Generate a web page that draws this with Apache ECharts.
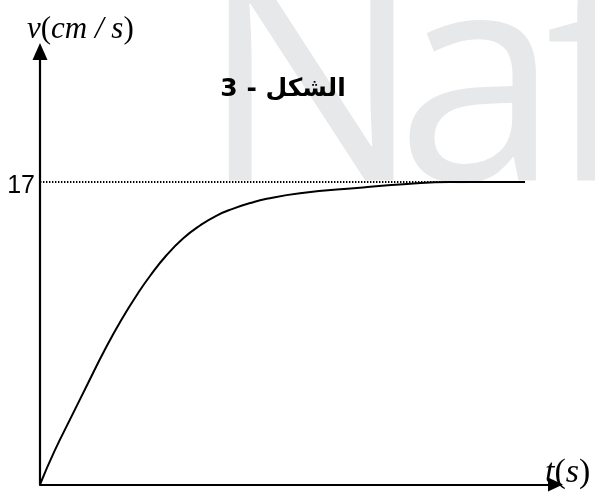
<!DOCTYPE html>
<html>
<head>
<meta charset="utf-8">
<script src="https://cdn.jsdelivr.net/npm/echarts@6/dist/echarts.min.js"></script>
<style>
  html, body { margin: 0; padding: 0; background: #fff; }
  #chart { width: 595px; height: 493px; }
</style>
</head>
<body>
<div id="chart"></div>
<script>
// Velocity v (cm/s) against time t (s): rises from rest and levels off at 17 cm/s
const times = [0, 0.285, 0.607, 0.931, 1.255, 1.577, 1.901, 2.134, 2.458, 2.780, 3.104, 3.428, 3.750, 4.074, 4.398, 5.044, 6.149, 7.119, 7.953, 9.408];
const speeds = [0, 1.90, 3.80, 5.69, 7.56, 9.25, 10.75, 11.72, 12.90, 13.84, 14.56, 15.12, 15.51, 15.82, 16.06, 16.37, 16.67, 16.89, 17, 17];
const yTicks = [17];
const limitSpeed = 17;
const titleText = 'الشكل - 3';

const chart = echarts.init(document.getElementById('chart'), null, { renderer: 'canvas' });

const serif = 'Liberation Serif, Times New Roman, serif';
const markFont = '295px "Open Sans", sans-serif';
const markColor = '#e7e8e9';

chart.setOption({
  animation: false,
  backgroundColor: '#ffffff',
  grid: { left: 40, right: 39.5, top: 51.5, bottom: 8.5, containLabel: false },
  xAxis: {
    type: 'value',
    min: 0,
    max: 10,
    axisLine: {
      show: true,
      onZero: false,
      symbol: ['none', 'triangle'],
      symbolSize: [14, 15],
      lineStyle: { color: '#000', width: 2.2 }
    },
    axisTick: { show: false },
    axisLabel: { show: false },
    splitLine: { show: false }
  },
  yAxis: {
    type: 'value',
    min: 0,
    max: 24.34,
    interval: 17,
    axisLine: {
      show: true,
      onZero: false,
      symbol: ['none', 'triangle'],
      symbolSize: [15, 17],
      lineStyle: { color: '#000', width: 2.2 }
    },
    axisTick: { show: false },
    splitLine: { show: false },
    axisLabel: {
      showMaxLabel: false,
      margin: 5,
      color: '#000',
      fontFamily: 'Liberation Sans, Arial, sans-serif',
      fontSize: 25,
      verticalAlign: 'top',
      lineHeight: 9,
      formatter: function (v) { return yTicks.indexOf(v) >= 0 ? String(v) : ''; }
    }
  },
  series: [{
    type: 'line',
    data: times.map(function (t, i) { return [t, speeds[i]]; }),
    smooth: 0.5,
    showSymbol: false,
    lineStyle: { color: '#000', width: 2 },
    z: 3,
    markLine: {
      silent: true,
      symbol: ['none', 'none'],
      label: { show: false },
      lineStyle: { color: '#000', width: 1.8, type: [1.4, 1.6] },
      data: [[{ coord: [0, limitSpeed] }, { coord: [times[times.length - 2], limitSpeed] }]]
    }
  }],
  graphic: [
    // faint background lettering, placed letter by letter
    { type: 'text', z: -10, silent: true, left: 200, top: -51, style: { text: 'N', fill: markColor, font: markFont } },
    { type: 'text', z: -10, silent: true, left: 396, top: -51, style: { text: 'a', fill: markColor, font: markFont } },
    { type: 'text', z: -10, silent: true, left: 545, top: -51, style: { text: 'f', fill: markColor, font: markFont } },
    {
      type: 'text',
      z: 10,
      x: 283,
      y: 89,
      style: {
        text: titleText,
        fill: '#000',
        font: 'bold 25px "DejaVu Sans", sans-serif',
        align: 'center',
        verticalAlign: 'middle'
      }
    },
    {
      type: 'text',
      z: 10,
      x: 27,
      y: 30,
      style: {
        text: '{i|v}{n|(}{i|cm / s}{n|)}',
        verticalAlign: 'middle',
        rich: {
          i: { fontStyle: 'italic', fontSize: 31, fontFamily: serif, fill: '#000' },
          n: { fontSize: 31, fontFamily: serif, fill: '#000' }
        }
      }
    },
    {
      type: 'text',
      z: 10,
      x: 545,
      y: 473,
      style: {
        text: '{i|t}{n|(}{i|s}{n|)}',
        verticalAlign: 'middle',
        rich: {
          i: { fontStyle: 'italic', fontSize: 34, fontFamily: serif, fill: '#000' },
          n: { fontSize: 34, fontFamily: serif, fill: '#000' }
        }
      }
    }
  ]
});
</script>
</body>
</html>
